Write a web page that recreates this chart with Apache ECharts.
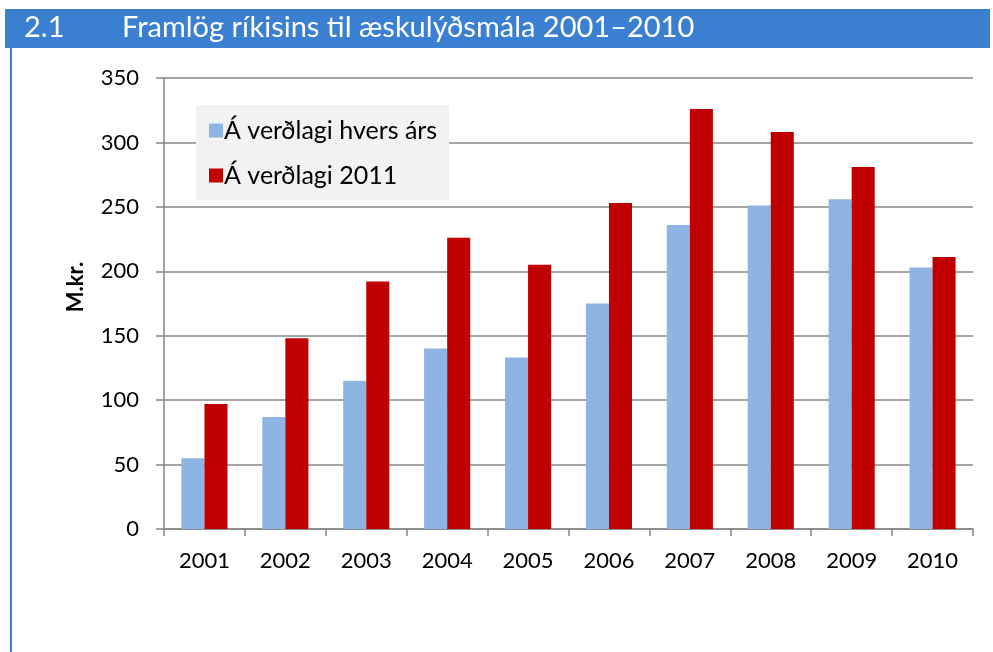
<!DOCTYPE html>
<html>
<head>
<meta charset="utf-8">
<script src="https://cdn.jsdelivr.net/npm/echarts@6/dist/echarts.min.js"></script>
<style>
  html, body { margin: 0; padding: 0; background: #fff; }
  #chart { width: 993px; height: 652px; }
</style>
</head>
<body>
<div id="chart"></div>
<script>
// data (M.kr.)
const years = ['2001', '2002', '2003', '2004', '2005', '2006', '2007', '2008', '2009', '2010'];
const currentPrices = [55, 87, 115, 140, 133, 175, 236, 251, 256, 203];
const prices2011 = [97, 148, 192, 226, 205, 253, 326, 308, 281, 211];
const seriesNames = ['Á verðlagi hvers árs', 'Á verðlagi 2011'];

const font = 'Lato, "Open Sans", sans-serif';
const blueHead = '#3A7FD0';

let myChart = echarts.init(document.getElementById('chart'));
myChart.setOption({
  animation: false,
  textStyle: { fontFamily: font },
  graphic: [
    // title bar and left rule
    { type: 'rect', shape: { x: 5, y: 9, width: 985, height: 39 }, style: { fill: blueHead }, z: 0 },
    { type: 'rect', shape: { x: 10, y: 48, width: 2, height: 604 }, style: { fill: blueHead }, z: 0 },
    // axis title, sits a bit above the middle like the original
    { type: 'text', x: 76, y: 287, rotation: Math.PI / 2,
      style: { text: 'M.kr.', fill: '#000', font: 'bold 22px ' + font, align: 'center', verticalAlign: 'middle' } }
  ],
  title: [
    { text: '2.1', left: 24, top: 13, padding: 0,
      textStyle: { color: '#fff', fontSize: 29, fontWeight: 'normal', fontFamily: font } },
    { text: 'Framlög ríkisins til æskulýðsmála 2001–2010', left: 122, top: 13, padding: 0,
      textStyle: { color: '#fff', fontSize: 29, fontWeight: 'normal', fontFamily: font } }
  ],
  legend: {
    data: seriesNames,
    orient: 'vertical',
    left: 196,
    top: 105,
    backgroundColor: '#f2f2f2',
    padding: [13, 12, 12, 13],
    itemWidth: 14,
    itemHeight: 14,
    itemGap: 20,
    icon: 'rect',
    textStyle: { fontSize: 25, color: '#000', fontFamily: font, padding: [0, 0, 0, -4] }
  },
  grid: { left: 164, right: 20, top: 78, bottom: 123 },
  xAxis: {
    type: 'category',
    data: years,
    axisLine: { lineStyle: { color: '#878787', width: 1.5 } },
    axisTick: { show: true, length: 7, lineStyle: { color: '#878787', width: 1.5 } },
    axisLabel: { color: '#000', fontSize: 22, margin: 21, fontFamily: font }
  },
  yAxis: {
    type: 'value',
    min: 0,
    max: 350,
    interval: 50,
    axisLine: { show: true, lineStyle: { color: '#878787', width: 1.5 } },
    axisTick: { show: true, length: 8, lineStyle: { color: '#878787', width: 1.5 } },
    axisLabel: { color: '#000', fontSize: 22, margin: 25, fontFamily: font },
    splitLine: { lineStyle: { color: '#878787', width: 1.5 } }
  },
  series: [
    {
      name: seriesNames[0],
      type: 'bar',
      data: currentPrices,
      barGap: '0%',
      barCategoryGap: '43%',
      itemStyle: { color: '#8EB4E3' }
    },
    {
      name: seriesNames[1],
      type: 'bar',
      data: prices2011,
      itemStyle: { color: '#C00000' }
    }
  ]
});
</script>
</body>
</html>
